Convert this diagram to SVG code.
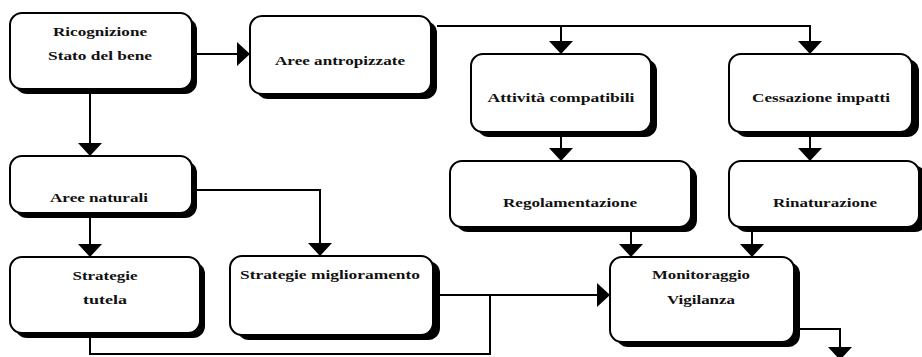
<svg xmlns="http://www.w3.org/2000/svg" width="922" height="357" viewBox="0 0 922 357">
  <defs>
    <style>
      .shadow { fill: #000; }
      .box { fill: #fff; stroke: #000; stroke-width: 2; }
      .lbl { font-family: "Liberation Serif", "Times New Roman", serif; font-weight: bold; font-size: 13px; fill: #111; text-anchor: middle; }
      .wire { fill: none; stroke: #000; stroke-width: 2; }
    </style>
    <marker id="head" viewBox="0 0 13 24" refX="13" refY="12" markerWidth="13" markerHeight="24" markerUnits="userSpaceOnUse" orient="auto">
      <path d="M0,0 L13,12 L0,24 Z" fill="#000"/>
    </marker>
  </defs>

  <rect width="922" height="357" fill="#fff"/>

  <!-- connectors -->
  <g id="connectors">
    <path class="wire" d="M197,54 H250" marker-end="url(#head)"/>
    <path class="wire" d="M437,26 H810 V54" marker-end="url(#head)"/>
    <path class="wire" d="M561,26 V54" marker-end="url(#head)"/>
    <path class="wire" d="M561,137 V161" marker-end="url(#head)"/>
    <path class="wire" d="M810,137 V161" marker-end="url(#head)"/>
    <path class="wire" d="M631,232 V257" marker-end="url(#head)"/>
    <path class="wire" d="M752,232 V257" marker-end="url(#head)"/>
    <path class="wire" d="M90,94 V156" marker-end="url(#head)"/>
    <path class="wire" d="M197,190 H320 V256" marker-end="url(#head)"/>
    <path class="wire" d="M90,218 V257" marker-end="url(#head)"/>
    <path class="wire" d="M440,295 H610" marker-end="url(#head)"/>
    <path class="wire" d="M90,338 V354 H490 V295"/>
    <path class="wire" d="M800,329 H840 V360" marker-end="url(#head)"/>
  </g>

  <!-- nodes -->
  <g id="ricognizione">
    <rect class="shadow" x="15" y="18" width="182" height="76" rx="12"/>
    <rect class="box" x="10" y="13" width="182" height="76" rx="12"/>
    <text class="lbl" x="100" y="36" textLength="94" lengthAdjust="spacingAndGlyphs">Ricognizione</text>
    <text class="lbl" x="100" y="60" textLength="104" lengthAdjust="spacingAndGlyphs">Stato del bene</text>
  </g>

  <g id="aree-antropizzate">
    <rect class="shadow" x="256" y="21" width="181" height="78" rx="12"/>
    <rect class="box" x="250" y="16" width="181" height="78" rx="12"/>
    <text class="lbl" x="340" y="65" textLength="130" lengthAdjust="spacingAndGlyphs">Aree antropizzate</text>
  </g>

  <g id="attivita-compatibili">
    <rect class="shadow" x="477" y="59" width="180" height="78" rx="12"/>
    <rect class="box" x="471" y="54" width="180" height="78" rx="12"/>
    <text class="lbl" x="561" y="102" textLength="147" lengthAdjust="spacingAndGlyphs">Attività compatibili</text>
  </g>

  <g id="cessazione-impatti">
    <rect class="shadow" x="735" y="59" width="184" height="78" rx="12"/>
    <rect class="box" x="729" y="54" width="183" height="78" rx="12"/>
    <text class="lbl" x="821" y="102" textLength="138" lengthAdjust="spacingAndGlyphs">Cessazione impatti</text>
  </g>

  <g id="regolamentazione">
    <rect class="shadow" x="456" y="166" width="241" height="66" rx="12"/>
    <rect class="box" x="450" y="161" width="241" height="66" rx="12"/>
    <text class="lbl" x="570" y="207" textLength="134" lengthAdjust="spacingAndGlyphs">Regolamentazione</text>
  </g>

  <g id="rinaturazione">
    <rect class="shadow" x="735" y="166" width="192" height="66" rx="12"/>
    <rect class="box" x="729" y="161" width="190" height="66" rx="12"/>
    <text class="lbl" x="825" y="207" textLength="104" lengthAdjust="spacingAndGlyphs">Rinaturazione</text>
  </g>

  <g id="aree-naturali">
    <rect class="shadow" x="15" y="161" width="182" height="57" rx="12"/>
    <rect class="box" x="10" y="156" width="182" height="57" rx="12"/>
    <text class="lbl" x="99" y="202" textLength="98" lengthAdjust="spacingAndGlyphs">Aree naturali</text>
  </g>

  <g id="strategie-tutela">
    <rect class="shadow" x="15" y="262" width="190" height="76" rx="12"/>
    <rect class="box" x="10" y="257" width="190" height="76" rx="12"/>
    <text class="lbl" x="105" y="280" textLength="65" lengthAdjust="spacingAndGlyphs">Strategie</text>
    <text class="lbl" x="105" y="304" textLength="44" lengthAdjust="spacingAndGlyphs">tutela</text>
  </g>

  <g id="strategie-miglioramento">
    <rect class="shadow" x="237" y="261" width="203" height="79" rx="12"/>
    <rect class="box" x="230" y="256" width="203" height="79" rx="12"/>
    <text class="lbl" x="330" y="279" textLength="180" lengthAdjust="spacingAndGlyphs">Strategie miglioramento</text>
  </g>

  <g id="monitoraggio">
    <rect class="shadow" x="616" y="262" width="184" height="85" rx="12"/>
    <rect class="box" x="610" y="257" width="184" height="85" rx="12"/>
    <text class="lbl" x="701" y="279" textLength="98" lengthAdjust="spacingAndGlyphs">Monitoraggio</text>
    <text class="lbl" x="701" y="304" textLength="68" lengthAdjust="spacingAndGlyphs">Vigilanza</text>
  </g>
</svg>
